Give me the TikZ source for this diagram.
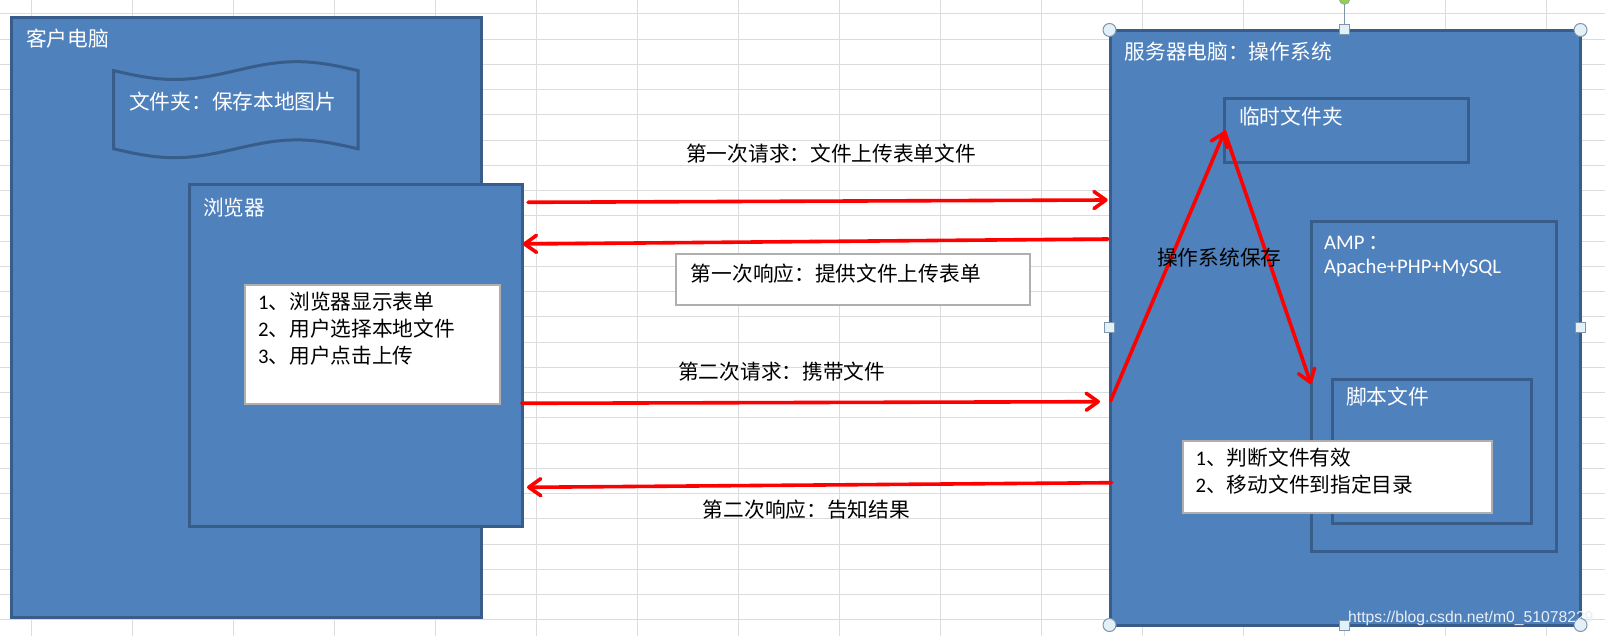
\documentclass[tikz,border=0pt]{standalone}
\usepackage{fontspec}
\setmainfont{Noto Sans CJK SC}
\newfontfamily\lat{Carlito}
\newfontfamily\wmfont{Liberation Sans}
\usetikzlibrary{arrows.meta}
\definecolor{boxblue}{RGB}{79,129,189}
\definecolor{boxedge}{RGB}{56,93,138}
\definecolor{gridgray}{RGB}{218,220,221}
\definecolor{notegray}{RGB}{175,175,175}
\definecolor{handleedge}{RGB}{125,150,172}
\definecolor{handlefill}{RGB}{228,240,248}
\definecolor{rotgreen}{RGB}{150,205,90}
\tikzset{
  gridline/.style={draw=gridgray, line width=1pt},
  bluebox/.style={draw=boxedge, fill=boxblue, line width=3pt, inner sep=0pt, outer sep=0pt, anchor=north west},
  notebox/.style={draw=notegray, fill=white, line width=1.2pt, inner sep=0pt, outer sep=0pt, anchor=north west},
  wtext/.style={text=white, inner sep=0pt, anchor=west, font=\fontsize{20.7}{26.7}\selectfont},
  btext/.style={text=black, inner sep=0pt, anchor=west, font=\fontsize{20.7}{26.8}\selectfont, align=left},
  redarrow/.style={draw=red, line width=3.6pt, line cap=round, -{Straight Barb[round,length=12pt,width=17pt]}},
  cornerhandle/.style={draw=handleedge, fill=handlefill, line width=1pt},
  sidehandle/.style={draw=handleedge, fill=handlefill, line width=1pt}
}
\begin{document}
\begin{tikzpicture}[x=1pt,y=-1pt]
\useasboundingbox (0,0) rectangle (1605,636);
\fill[white] (0,0) rectangle (1605,636);
% spreadsheet grid
\foreach \i in {0,...,15} \draw[gridline] ({31+101*\i},0) -- ({31+101*\i},636);
\foreach \j in {0,...,24} \draw[gridline] (0,{13.9+25.25*\j}) -- (1605,{13.9+25.25*\j});

% client computer
\node[bluebox, minimum width=469.5pt, minimum height=599pt] (client) at (11.5,18) {};
\node[wtext] (clientT) at (26,38.6) {客户电脑};
% folder (punched tape)
\draw[draw=boxedge, fill=boxblue, line width=3pt]
  (113.6,70.6) sin (174.7,79.5) cos (235.8,70.6) sin (296.9,61.7) cos (358,70.6)
  -- (358,148.8) sin (296.9,139.9) cos (235.8,148.8) sin (174.7,157.7) cos (113.6,148.8) -- cycle;
\node[wtext] (folderT) at (129,101.6) {文件夹：保存本地图片};
% browser
\node[bluebox, minimum width=333pt, minimum height=342pt] (browser) at (189.5,184.5) {};
\node[wtext] (browserT) at (203,208) {浏览器};
\node[notebox, minimum width=255pt, minimum height=119pt] (note1) at (245,285) {};
\node[btext, anchor=north west] (note1T) at (258,292) {{\lat 1}、浏览器显示表单\\{\lat 2}、用户选择本地文件\\{\lat 3}、用户点击上传};

% server
\node[bluebox, minimum width=470pt, minimum height=594pt] (server) at (1110,31) {};
\node[wtext] (serverT) at (1124.5,52) {服务器电脑：操作系统};
\node[bluebox, minimum width=244pt, minimum height=64pt] (tmp) at (1224,99) {};
\node[wtext] (tmpT) at (1239,117) {临时文件夹};
\node[bluebox, minimum width=245pt, minimum height=329pt] (amp) at (1311,222) {};
\node[wtext, font=\lat\fontsize{20.7}{26}\selectfont] (ampT1) at (1324,243) {AMP\,{\fontspec{Noto Sans CJK SC}：}};
\node[wtext, font=\lat\fontsize{20.7}{26}\selectfont] (ampT2) at (1324,268) {Apache+PHP+MySQL};
\node[bluebox, minimum width=199pt, minimum height=144pt] (script) at (1332,379) {};
\node[wtext] (scriptT) at (1346,397) {脚本文件};
\node[notebox, minimum width=309pt, minimum height=72pt] (note2) at (1183,441) {};
\node[btext, anchor=north west] (note2T) at (1195.5,447.5) {{\lat 1}、判断文件有效\\{\lat 2}、移动文件到指定目录};

% request / response labels
\node[btext] (req1) at (686,154) {第一次请求：文件上传表单文件};
\node[notebox, minimum width=354pt, minimum height=51pt] (resp1box) at (676,254) {};
\node[btext] (resp1) at (690.7,274) {第一次响应：提供文件上传表单};
\node[btext] (req2) at (678,371.7) {第二次请求：携带文件};
\node[btext] (resp2) at (702.7,510) {第二次响应：告知结果};

% arrow end points
\coordinate (a1s) at (528,202.3);  \coordinate (a1e) at (1107.7,200);
\coordinate (a2s) at (1108,239);   \coordinate (a2e) at (522.7,244);
\coordinate (a3s) at (521.7,403.3);\coordinate (a3e) at (1100,401.7);
\coordinate (a4s) at (1111.7,482.7);\coordinate (a4e) at (527,487.3);
\coordinate (osS) at (1110.7,400.7);\coordinate (osTop) at (1224.6,131.5);
\coordinate (osEnd) at (1311,384);
\draw[redarrow] (a1s) -- (a1e);
\draw[redarrow] (a2s) -- (a2e);
\draw[redarrow] (a3s) -- (a3e);
\draw[redarrow] (a4s) -- (a4e);
\draw[redarrow] (osS) -- (osTop);
\draw[redarrow] (osTop) -- (osEnd);
\node[btext] (osSave) at (1157,258) {操作系统保存};

% selection handles of the server shape
\draw[handleedge, line width=1.5pt] (1344.5,3) -- (1344.5,26);
\node[circle, draw=handleedge, fill=rotgreen, minimum size=11pt, inner sep=0pt] (rot) at (1344.5,-1) {};
\node[circle, cornerhandle, minimum size=13pt, inner sep=0pt] (hTL) at (1109.5,30) {};
\node[circle, cornerhandle, minimum size=13pt, inner sep=0pt] (hTR) at (1580.5,30) {};
\node[circle, cornerhandle, minimum size=13pt, inner sep=0pt] (hBL) at (1109.5,625) {};
\node[circle, cornerhandle, minimum size=13pt, inner sep=0pt] (hBR) at (1580.5,625) {};
\node[sidehandle, minimum size=10pt, inner sep=0pt] (hT) at (1344.5,30) {};
\node[sidehandle, minimum size=10pt, inner sep=0pt] (hB) at (1344.5,625) {};
\node[sidehandle, minimum size=10pt, inner sep=0pt] (hL) at (1109.5,327.5) {};
\node[sidehandle, minimum size=10pt, inner sep=0pt] (hR) at (1580.5,327.5) {};

% watermark
\node[inner sep=0pt, anchor=west, text={rgb,255:red,236;green,238;blue,242}, font=\wmfont\fontsize{15.7}{18}\selectfont] (wm) at (1348,618) {https://blog.csdn.net/m0\_51078229};
\end{tikzpicture}
\end{document}
